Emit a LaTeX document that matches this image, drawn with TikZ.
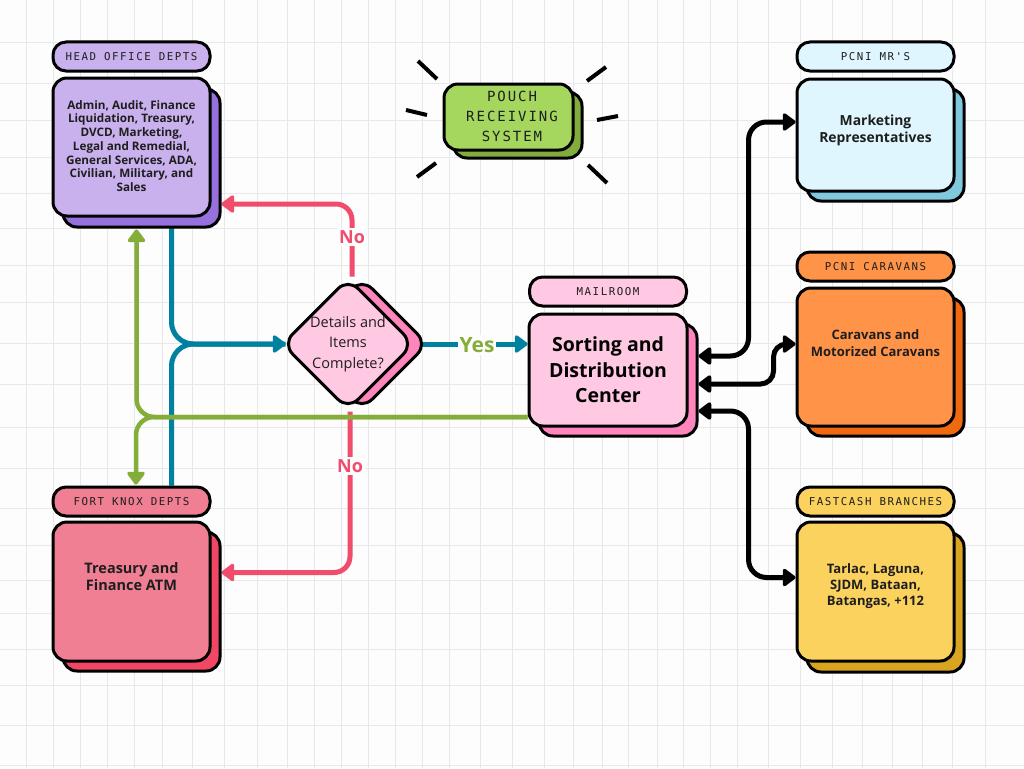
\documentclass[tikz,border=0pt]{standalone}
\usepackage{fontspec}
\setmainfont{Open Sans}
\newfontfamily\capfont[LetterSpace=14]{DejaVu Sans Mono}
\usetikzlibrary{arrows.meta,calc,shapes.geometric}
\pgfdeclarelayer{paper}
\pgfdeclarelayer{wires}
\pgfsetlayers{paper,wires,main}
\definecolor{paperbg}{HTML}{FDFDFD}
\definecolor{gridln}{HTML}{E8E8E8}
\definecolor{inkdark}{HTML}{1E1E1E}
\definecolor{headF}{HTML}{C9B1EE}
\definecolor{headB}{HTML}{9670DC}
\definecolor{pouchF}{HTML}{A5D75F}
\definecolor{pouchB}{HTML}{82AD3C}
\definecolor{mrF}{HTML}{DFF6FF}
\definecolor{mrB}{HTML}{7FC8DE}
\definecolor{carF}{HTML}{FF9348}
\definecolor{carB}{HTML}{F0690F}
\definecolor{fastF}{HTML}{FCD25F}
\definecolor{fastB}{HTML}{D9A520}
\definecolor{fortF}{HTML}{F07F94}
\definecolor{fortB}{HTML}{EF4764}
\definecolor{mailF}{HTML}{FFC8E3}
\definecolor{mailB}{HTML}{FF85BD}
\definecolor{wireblue}{HTML}{00819F}
\definecolor{wiregreen}{HTML}{85AD3A}
\definecolor{wirepink}{HTML}{F04D6C}
\tikzset{
	card/.style={draw=black,line width=3pt,rounded corners=14pt,inner sep=0pt},
	pill/.style={draw=black,line width=3pt,rounded corners=13pt,inner sep=0pt,minimum height=29pt,text=inkdark,
		font=\capfont\fontsize{10.8}{12}\selectfont},
	cardtext/.style={align=center,inner sep=0pt,text=inkdark,font=\bfseries},
	flag/.style={fill=paperbg,inner sep=2pt,font=\bfseries\fontsize{18}{20}\selectfont},
	tip/.style={-{Triangle[round,length=14pt,width=20pt]}},
	bothtip/.style={{Triangle[round,length=14pt,width=20pt]}-{Triangle[round,length=14pt,width=20pt]}},
	wire/.style={line width=5pt},
}
\begin{document}
\begin{tikzpicture}[x=1pt,y=-1pt]
\useasboundingbox (0,0) rectangle (1024,768);
\begin{pgfonlayer}{paper}
\fill[paperbg] (0,0) rectangle (1024,768);
\foreach \gx in {26,53,80,107,134,162,192,224,257,287,314,341,368,395,422,449,480,512,544,573,602,628,657,683,710,737,768,800,832,862,892,922,952,985}
	\draw[gridln,line width=1pt] (\gx,0) -- (\gx,768);
\foreach \gy in {43,83,120,157,193,228,265,302,343,384,427,468,508,545,580,613,649,685,725,765}
	\draw[gridln,line width=1pt] (0,\gy) -- (1024,\gy);
\end{pgfonlayer}
% back sheet first, front sheet on top of it
\foreach \name/\cx/\cy/\bw/\bh/\dx/\dy/\front/\back in {
	head/131.5/147/157/138/10/11/headF/headB,
	pouch/508.5/117/129/66/9/8/pouchF/pouchB,
	mr/875.5/135/157/112/10/10/mrF/mrB,
	car/875.5/357/157/138/10/10/carF/carB,
	fast/875.5/591.5/157/139/10/11/fastF/fastB,
	fort/131.5/591.5/157/139/10/10/fortF/fortB,
	mail/608/370/158/112/10/10/mailF/mailB}{
	\node[card,fill=\back,minimum width=\bw pt,minimum height=\bh pt] (\name-back) at ({\cx+\dx},{\cy+\dy}) {};
	\node[card,fill=\front,minimum width=\bw pt,minimum height=\bh pt] (\name) at (\cx,\cy) {};
	}
\foreach \name/\cx/\cy/\front/\txt in {
	head/131.5/56.5/headF/HEAD OFFICE DEPTS,
	mr/875.5/56.5/mrF/PCNI MR'S,
	car/875.5/266.5/carF/PCNI CARAVANS,
	fast/875.5/501.5/fastF/FASTCASH BRANCHES,
	fort/131.5/501.5/fortF/FORT KNOX DEPTS,
	mail/608/291.5/mailF/MAILROOM}{
	\node[pill,fill=\front,minimum width=157pt] (\name-tag) at (\cx,\cy) {\txt};
	}
% text sits a little above the middle on most cards
\node[cardtext,font=\bfseries\fontsize{11.7}{13.7}\selectfont] (head-txt) at ($(head.center)+(0,-1)$)
	{Admin, Audit, Finance\\Liquidation, Treasury,\\DVCD, Marketing,\\Legal and Remedial,\\General Services, ADA,\\Civilian, Military, and\\Sales};
\node[cardtext,font=\capfont\fontsize{14}{20}\selectfont] (pouch-txt) at ($(pouch.center)+(3.5,-1)$)
	{POUCH\\RECEIVING\\SYSTEM};
\node[cardtext,font=\bfseries\fontsize{13.9}{17}\selectfont] (mr-txt) at ($(mr.center)+(0,-5)$)
	{Marketing\\Representatives};
\node[cardtext,font=\bfseries\fontsize{13}{16.5}\selectfont] (car-txt) at ($(car.center)+(0,-14)$)
	{Caravans and\\Motorized Caravans};
\node[cardtext,font=\bfseries\fontsize{13}{16}\selectfont] (fast-txt) at ($(fast.center)+(0,-5)$)
	{Tarlac, Laguna,\\SJDM, Bataan,\\Batangas, +112};
\node[cardtext,font=\bfseries\fontsize{14.5}{17}\selectfont] (fort-txt) at ($(fort.center)+(0,-15)$)
	{Treasury and\\Finance ATM};
\node[cardtext,text=black,font=\bfseries\fontsize{19.5}{25.5}\selectfont] (mail-txt) at (mail.center)
	{Sorting and\\Distribution\\Center};
% 132 = tip to tip before the corners round it off
\node[diamond,aspect=1,draw=black,line width=3pt,rounded corners=14pt,fill=mailB,inner sep=0pt,minimum size=132pt] (dec-back) at (362,344) {};
\node[diamond,aspect=1,draw=black,line width=3pt,rounded corners=14pt,fill=mailF,inner sep=0pt,minimum size=132pt,align=center,
	text=inkdark,font=\fontsize{14.5}{20.5}\selectfont] (dec) at (348,344) {Details and\\Items\\Complete?};
\foreach \xa/\ya/\xb/\yb in {418/61/437/79,606/67/587/81,406/110/427/115,618/116/597/120,436/163/417/177,588/165/607/183}
	\draw[line width=4pt] (\xa,\ya) -- (\xb,\yb);
\begin{pgfonlayer}{wires}
\draw[wire,wirepink,tip,rounded corners=16pt] ($(dec.north)+(4,0)$) |- ($(head-back.east)+(0,46)$);
\draw[wire,wirepink,tip,rounded corners=16pt] ($(dec.south)+(2,0)$) |- ($(fort-back.east)+(0,-29)$);
\draw[wire,wireblue,tip,rounded corners=22pt] ($(head.south)+(40,0)$) |- ($(dec.west)+(5,0)$);
\draw[wire,wireblue,rounded corners=22pt] ($(fort-tag.north)+(40,0)$) |- ($(dec.west)+(5,0)$);
\draw[wire,wireblue,tip] (dec-back.center) -- (mail.west |- dec-back.center);
\draw[wire,wiregreen,line width=4.5pt,tip,rounded corners=18pt] ($(mail.west)+(0,47)$) -| ($(head-back.south)+(-5,1)$);
\draw[wire,wiregreen,line width=4.5pt,tip,rounded corners=18pt] ($(mail.west)+(0,47)$) -| ($(fort-tag.north)+(4.5,-1)$);
\draw[wire,bothtip,rounded corners=18pt] ($(mail-back.east)+(0,-24)$) -- ++(50,0) |- ($(mr.west)+(0,-13)$);
\draw[wire,bothtip,rounded corners=13pt] ($(mail-back.east)+(0,4)$) -- ++(75,0) |- ($(car.west)+(0,-13)$);
\draw[wire,bothtip,rounded corners=18pt] ($(mail-back.east)+(0,31)$) -- ++(50,0) |- ($(fast.west)+(0,-14)$);
\end{pgfonlayer}
\node[flag,text=wirepink] (no-up) at (352,237) {No};
\node[flag,text=wirepink] (no-down) at (350,466) {No};
\node[flag,text=wiregreen,font=\bfseries\fontsize{21}{23}\selectfont] (yes) at (477,345) {Yes};
\end{tikzpicture}
\end{document}
